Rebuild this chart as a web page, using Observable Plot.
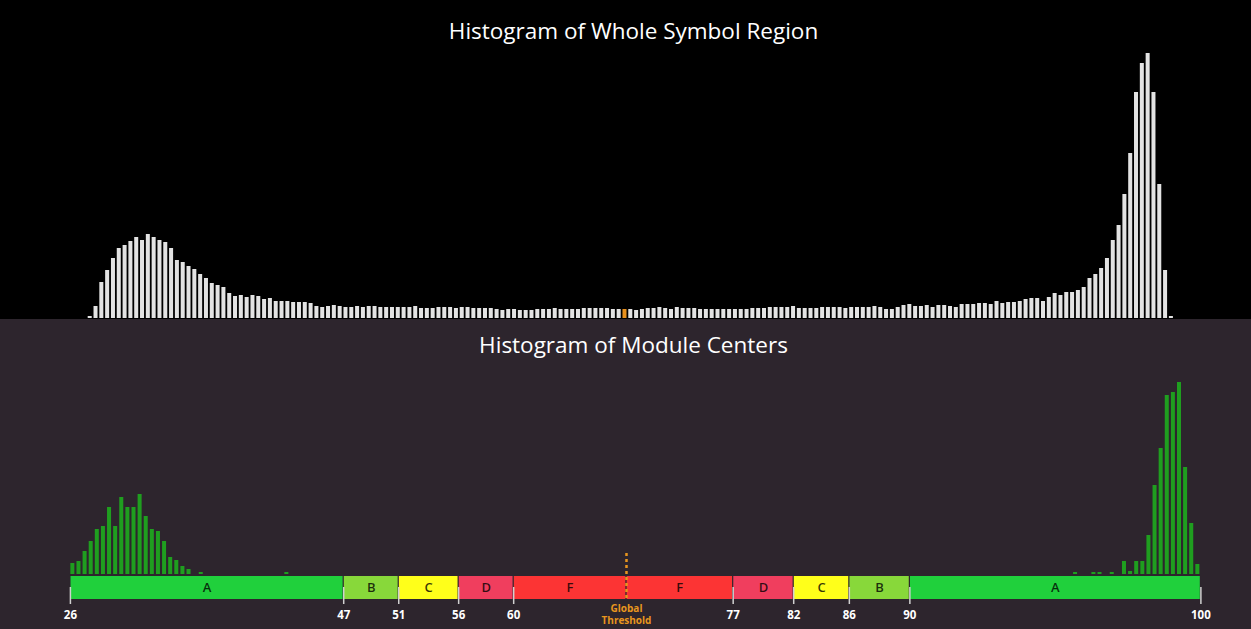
<!DOCTYPE html>
<html>
<head>
<meta charset="utf-8">
<script src="https://cdn.jsdelivr.net/npm/d3@7"></script>
<script src="https://cdn.jsdelivr.net/npm/@observablehq/plot@0.6"></script>
<style>
  html, body { margin: 0; padding: 0; background: #000; }
  body { width: 1251px; height: 629px; overflow: hidden; position: relative;
         font-family: "Open Sans", "Noto Sans", sans-serif; }
  #top { position: absolute; left: 0; top: 0; width: 1251px; height: 319px; background: #000; }
  #bottom { position: absolute; left: 0; top: 319px; width: 1251px; height: 310px; background: #2d252d; }
  .title { color: #fff; font-size: 22.5px; text-align: center; box-sizing: border-box; line-height: 26px; padding-left: 16px; }
  #top .title { height: 50px; padding-top: 18px; }
  #bottom .title { height: 44px; padding-top: 13px; }
  svg { display: block; }
</style>
</head>
<body>
<div id="top"><div class="title">Histogram of Whole Symbol Region</div></div>
<div id="bottom"><div class="title">Histogram of Module Centers</div></div>
<script>
// ---- Data (gray-level bins; counts) ----
// Whole symbol region histogram: one count per level, starting at level 0
const symbolCounts = [
  2,12,36,48,60,70,73,77,81,78,
  84,81,78,76,70,58,56,52,49,44,
  40,35,33,31,25,22,23,21,23,22,
  19,20,17,17,17,16,16,16,15,12,
  11,12,13,12,11,11,12,11,12,12,
  11,11,11,11,11,11,12,10,10,10,
  11,11,11,10,11,11,10,10,10,10,
  9,8,9,9,8,8,8,9,9,9,
  10,9,9,9,9,10,10,10,10,10,
  9,9,9,9,8,9,10,10,11,10,
  9,11,10,10,10,9,9,9,9,9,
  9,9,9,9,10,10,10,11,11,11,
  11,12,10,10,10,10,11,11,11,11,
  10,11,11,11,11,12,11,9,9,11,
  13,14,12,12,13,11,13,13,12,11,
  14,14,14,15,15,14,17,15,16,16,
  17,19,20,20,17,21,25,23,26,26,
  28,31,40,44,50,60,78,93,124,165,
  226,255,265,226,134,48,2
];
// Module centers histogram (non-empty levels only)
const moduleLevels = [1,2,3,4,5,6,7,8,9,10,11,12,13,14,15,16,17,18,19,20,22,36,165,168,169,171,173,174,175,176,177,178,179,180,181,182,183,184,185];
const moduleCounts = [11,13,23,33,45,48,67,48,77,67,67,80,58,45,43,33,17,14,8,5,2,2,2,2,2,2,13,3,13,13,39,89,126,179,182,192,107,51,10];

// Grade bands along the level axis
const bandEdges   = [1.1, 45.8, 54.8, 64.6, 73.6, 92.05, 109.5, 119.4, 128.5, 138.4, 186];
const bandGrades  = ["A","B","C","D","F","F","D","C","B","A"];
const gradeColors = {A: "#20d03c", B: "#88d83a", C: "#ffff1a", D: "#f03e5e", F: "#fc3434"};
const tickLevels  = [1.1, 45.8, 54.8, 64.6, 73.6, 109.5, 119.4, 128.5, 138.4, 186];
const tickLabels  = ["26","47","51","56","60","77","82","86","90","100"];
const thresholdLevel = 92;      // global threshold bin (highlighted)
const thresholdPos   = 92.05;   // global threshold marker

// ---- Tables built from the arrays ----
const symbolData = symbolCounts.map((c, i) => ({level: i, count: c}));
const moduleData = moduleLevels.map((l, i) => ({level: l, count: moduleCounts[i]}));
const bands = bandGrades.map((g, i) => ({grade: g, from: bandEdges[i], to: bandEdges[i + 1]}));
const ticks = tickLevels.map((p, i) => ({pos: p, label: tickLabels[i]}));

// ---- Top chart ----
const topChart = Plot.plot({
  width: 1251, height: 269,
  marginLeft: 86.8, marginRight: 77.2, marginTop: 3, marginBottom: 1,
  x: {domain: [0, symbolCounts.length], axis: null},
  y: {domain: [0, d3.max(symbolCounts)], axis: null},
  style: {background: "transparent"},
  marks: [
    Plot.rect(symbolData, {
      x1: "level", x2: d => d.level + 1, y1: 0, y2: "count",
      fill: d => d.level === thresholdLevel ? "#e8901c" : "#e3e3e3",
      insetLeft: 0.9, insetRight: 0.9
    })
  ]
});
document.getElementById("top").appendChild(topChart);

// ---- Bottom chart ----
const bottomChart = Plot.plot({
  width: 1251, height: 266,
  marginLeft: 69.3, marginRight: 50.6, marginTop: 19, marginBottom: 30,
  x: {domain: [1, 186], axis: null},
  y: {domain: [0, d3.max(moduleCounts)], range: [211, 19], axis: null},
  color: {type: "identity"},
  style: {background: "transparent", fontFamily: "'Open Sans', 'Noto Sans', sans-serif"},
  marks: [
    Plot.rect(moduleData, {
      x1: "level", x2: d => d.level + 1, y1: 0, y2: "count",
      fill: "#1f9e1f", insetLeft: 1.05, insetRight: 1.05
    }),
    Plot.rect(bands, {
      x1: "from", x2: "to", fill: d => gradeColors[d.grade],
      insetTop: 194, insetLeft: 0.6, insetRight: 0.6
    }),
    Plot.text(bands, {
      x: d => (d.from + d.to) / 2, text: "grade",
      frameAnchor: "bottom", dy: -11.5, lineAnchor: "middle",
      fill: "#000", fillOpacity: 0.78, fontSize: 13, fontWeight: 600
    }),
    Plot.ruleX(ticks, {x: "pos", stroke: "#d0d0d0", strokeWidth: 1.5, insetTop: 205, insetBottom: -5}),
    Plot.text(ticks, {
      x: "pos", text: "label", frameAnchor: "bottom", dy: 16, lineAnchor: "middle",
      fill: "#fff", fontWeight: "bold", fontSize: 11.5
    }),
    Plot.ruleX([thresholdPos], {
      stroke: "#e8961e", strokeWidth: 2.5, strokeDasharray: "3,3",
      insetTop: 171, insetBottom: 1
    }),
    Plot.text([thresholdPos], {
      x: d => d, text: () => "Global\nThreshold",
      frameAnchor: "bottom", dy: 4, lineAnchor: "top", lineHeight: 1.2,
      fill: "#e8961e", fontWeight: "bold", fontSize: 10
    })
  ]
});
document.getElementById("bottom").appendChild(bottomChart);
</script>
</body>
</html>
